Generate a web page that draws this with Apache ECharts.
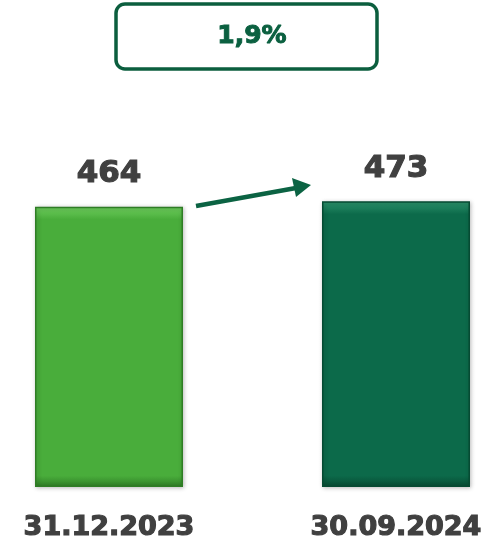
<!DOCTYPE html>
<html><head><meta charset="utf-8">
<script src="https://cdn.jsdelivr.net/npm/echarts@6/dist/echarts.min.js"></script>
<style>html,body{margin:0;padding:0;background:#fff}#c{width:501px;height:545px}</style>
</head><body><div id="c"></div>
<script>
var categories = ['31.12.2023', '30.09.2024'];
var values = [464, 473];
var barColors = ['#49ad3b', '#0c6a4a'];
var barLight = ['#6fcf5e', '#2c936c'];
var barDark = ['#2f7d25', '#064a32'];
var changeLabel = '1,9%';

var chart = echarts.init(document.getElementById('c'));
var FONT = 'DejaVu Sans';
function grad(i) {
  return new echarts.graphic.LinearGradient(0, 0, 0, 1, [
    { offset: 0, color: barLight[i] },
    { offset: 0.045, color: barColors[i] },
    { offset: 0.96, color: barColors[i] },
    { offset: 1, color: barDark[i] }
  ]);
}
chart.setOption({
  backgroundColor: '#ffffff',
  animation: false,
  grid: { left: 0, right: 0, top: 185, bottom: 58 },
  xAxis: {
    type: 'value', min: -0.3798, max: 1.3659,
    splitLine: { show: false },
    axisLine: { show: false }, axisTick: { show: false },
    axisLabel: {
      customValues: [0, 1],
      formatter: function (v) { return categories[Math.round(v)]; },
      color: '#404040', fontFamily: FONT, fontWeight: 'bold', fontSize: 27, margin: 27,
      textBorderColor: '#404040', textBorderWidth: 1.2
    }
  },
  yAxis: { type: 'value', min: 0, max: 500, show: false, splitLine: { show: false } },
  series: [{
    type: 'bar', barWidth: 148,
    data: values.map(function (v, i) {
      return { value: [i, v], itemStyle: { color: grad(i), borderColor: barDark[i] } };
    }),
    itemStyle: { borderWidth: 1.5, shadowColor: 'rgba(0,0,0,0.25)', shadowBlur: 4, shadowOffsetX: 1, shadowOffsetY: 1 },
    label: { show: true, position: 'top', distance: 17, color: '#404040', fontFamily: FONT, fontWeight: 'bold', fontSize: 31,
      textBorderColor: '#404040', textBorderWidth: 1.2,
      formatter: function (p) { return p.value[1]; } }
  }],
  graphic: [
    { type: 'rect', shape: { x: 116, y: 4, width: 261, height: 65, r: 9 },
      style: { fill: '#fff', stroke: '#0b5e3e', lineWidth: 3.5 } },
    { type: 'text', x: 252, y: 36, style: { text: changeLabel, fill: '#0b6040', font: 'bold 25px "DejaVu Sans"', textAlign: 'center', textVerticalAlign: 'middle', stroke: '#0b6040', lineWidth: 1 } },
    { type: 'line', shape: { x1: 196, y1: 206, x2: 296, y2: 188 }, style: { stroke: '#0b6343', lineWidth: 4.5 } },
    { type: 'polygon', shape: { points: [[311, 185], [292, 178], [296, 197]] }, style: { fill: '#0b6343' } }
  ]
});
</script></body></html>
